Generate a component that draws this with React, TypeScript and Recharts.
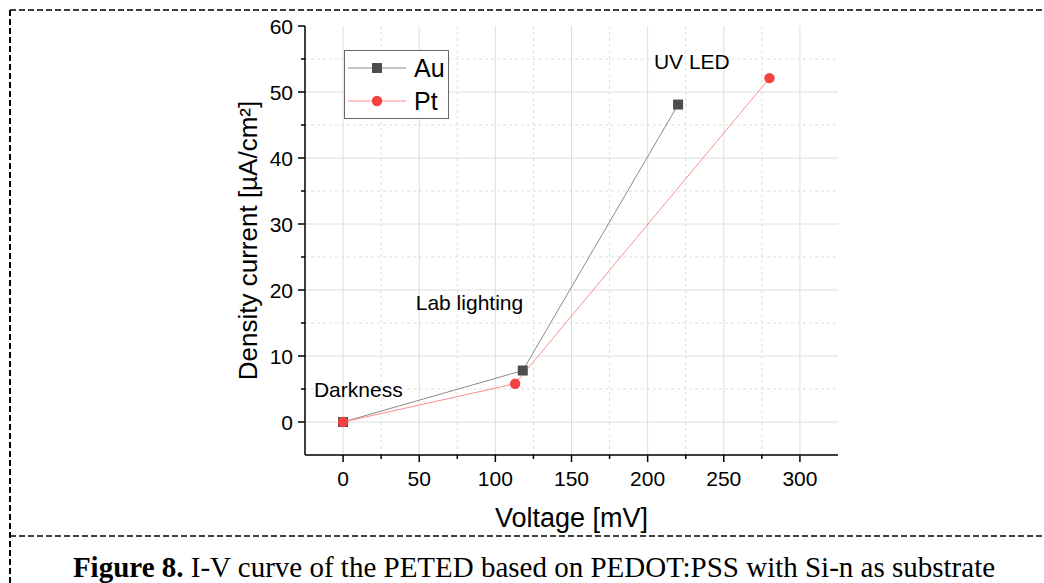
import React from "react";
import {
  LineChart,
  Line,
  XAxis,
  YAxis,
  ReferenceLine,
  ReferenceDot,
  Legend,
} from "recharts";

// measured points (voltage in mV, density current in uA/cm2)
const auVoltage = [0, 118, 220];
const auDensity = [0, 7.8, 48.1];
const ptVoltage = [0, 113, 280];
const ptDensity = [0, 5.8, 52.1];

const xTicks = [0, 25, 50, 75, 100, 125, 150, 175, 200, 225, 250, 275, 300];
const yTicks = [0, 5, 10, 15, 20, 25, 30, 35, 40, 45, 50, 55, 60];
const xMajorGrid = [0, 50, 100, 150, 200, 250, 300];
const xMinorGrid = [25, 75, 125, 175, 225, 275];
const yMajorGrid = [0, 10, 20, 30, 40, 50];
const yMinorGrid = [5, 15, 25, 35, 45, 55];

const notes = [
  { x: 229, y: 54.6, text: "UV LED" },
  { x: 83, y: 18.1, text: "Lab lighting" },
  { x: 10, y: 5, text: "Darkness" },
];

const auData = auVoltage.map((v, i) => ({ v, j: auDensity[i] }));
const ptData = ptVoltage.map((v, i) => ({ v, j: ptDensity[i] }));

const FONT = "Arial, 'Liberation Sans', sans-serif";
const AU_LINE = "#8a8a8a";
const AU_DOT = "#4d4d4d";
const PT_LINE = "#ff8c8c";
const PT_DOT = "#f44141";
const GRID = "#dedede";

const BottomTick = (p: any) => {
  const { x, y, payload } = p;
  const major = payload.value % 50 === 0;
  return (
    <g>
      <line x1={x} y1={y} x2={x} y2={y + (major ? 7 : 4)} stroke="#000" strokeWidth={1.5} />
      {major && (
        <text x={x} y={y + 31} textAnchor="middle" fontSize={21} fontFamily={FONT} fill="#000">
          {payload.value}
        </text>
      )}
    </g>
  );
};

const LeftTick = (p: any) => {
  const { x, y, payload } = p;
  const major = payload.value % 10 === 0;
  return (
    <g>
      <line x1={x} y1={y} x2={x - (major ? 7 : 4)} y2={y} stroke="#000" strokeWidth={1.5} />
      {major && (
        <text x={x - 12} y={y + 7.5} textAnchor="end" fontSize={21} fontFamily={FONT} fill="#000">
          {payload.value}
        </text>
      )}
    </g>
  );
};

const TopTick = (p: any) => {
  const { x, y, payload } = p;
  const major = payload.value % 50 === 0;
  return <line x1={x} y1={y} x2={x} y2={y + (major ? 7 : 4)} stroke="#000" strokeWidth={1.5} />;
};

const RightTick = (p: any) => {
  const { x, y, payload } = p;
  const major = payload.value % 10 === 0;
  return <line x1={x} y1={y} x2={x - (major ? 7 : 4)} y2={y} stroke="#000" strokeWidth={1.5} />;
};

const SquareDot = (p: any) => {
  const { cx, cy, index } = p;
  return <rect key={"au" + index} x={cx - 5} y={cy - 5} width={10} height={10} fill={AU_DOT} />;
};

const CircleDot = (p: any) => {
  const { cx, cy, index } = p;
  return <circle key={"pt" + index} cx={cx} cy={cy} r={5.2} fill={PT_DOT} />;
};

const LegendBox = () => (
  <svg width={106} height={70} style={{ display: "block" }}>
    <rect x={0.5} y={0.5} width={104} height={68} fill="#fff" stroke="#666" strokeWidth={1} />
    <line x1={4} y1={18} x2={62} y2={18} stroke={AU_LINE} strokeWidth={1} />
    <rect x={28} y={13} width={10} height={10} fill={AU_DOT} />
    <text x={70} y={27} fontSize={25} fontFamily={FONT} fill="#000">Au</text>
    <line x1={4} y1={51} x2={62} y2={51} stroke={PT_LINE} strokeWidth={1} />
    <circle cx={33} cy={51} r={5.2} fill={PT_DOT} />
    <text x={70} y={60} fontSize={25} fontFamily={FONT} fill="#000">Pt</text>
  </svg>
);

const NoteLabel = (text: string) => (p: any) => {
  const { viewBox } = p;
  const cx = viewBox.x + (viewBox.width || 0) / 2;
  const cy = viewBox.y + (viewBox.height || 0) / 2;
  return (
    <text x={cx} y={cy + 7.5} textAnchor="middle" fontSize={21} fontFamily={FONT} fill="#000">
      {text}
    </text>
  );
};

const Frame = () => (
  <svg
    width={1044}
    height={583}
    style={{ position: "absolute", left: 0, top: 0, pointerEvents: "none" }}
  >
    <line x1={10} y1={10} x2={1044} y2={10} stroke="#000" strokeWidth={1.5} strokeDasharray="6 3" />
    <line x1={10} y1={10} x2={10} y2={583} stroke="#000" strokeWidth={2} strokeDasharray="6 3" />
    <line x1={10} y1={536} x2={1044} y2={536} stroke="#000" strokeWidth={1.5} strokeDasharray="6 3" />
  </svg>
);

export default function App() {
  return (
    <div style={{ position: "absolute", left: 0, top: 0, width: 1044, height: 583, background: "#fff", overflow: "hidden" }}>
      <LineChart
        width={1044}
        height={583}
        margin={{ top: 26, right: 206, bottom: 88, left: 235 }}
      >
        <XAxis
          xAxisId="b"
          dataKey="v"
          type="number"
          domain={[-25, 325]}
          ticks={xTicks}
          interval={0}
          tickSize={0}
          tickMargin={0}
          tickLine={false}
          tick={<BottomTick />}
          height={40}
          axisLine={{ stroke: "#000", strokeWidth: 1.5 }}
          allowDataOverflow
          label={{
            content: (p: any) => (
              <text
                x={p.viewBox.x + p.viewBox.width / 2}
                y={p.viewBox.y + 72}
                textAnchor="middle"
                fontSize={27}
                fontFamily={FONT}
                fill="#000"
              >
                Voltage [mV]
              </text>
            ),
          }}
        />
        <XAxis
          xAxisId="t"
          orientation="top"
          dataKey="v"
          type="number"
          domain={[-25, 325]}
          ticks={xTicks}
          interval={0}
          tickSize={0}
          tickMargin={0}
          tickLine={false}
          tick={<TopTick />}
          height={0}
          axisLine={{ stroke: "#000", strokeWidth: 1.5 }}
          allowDataOverflow
        />
        <YAxis
          yAxisId="l"
          type="number"
          domain={[-5, 60]}
          ticks={yTicks}
          interval={0}
          tickSize={0}
          tickMargin={0}
          tickLine={false}
          tick={<LeftTick />}
          width={70}
          axisLine={{ stroke: "#000", strokeWidth: 1.5 }}
          allowDataOverflow
          label={{
            content: (p: any) => {
              const x = p.viewBox.x + 22;
              const y = p.viewBox.y + p.viewBox.height / 2;
              return (
                <text
                  x={x}
                  y={y}
                  transform={`rotate(-90 ${x} ${y})`}
                  textAnchor="middle"
                  fontSize={26}
                  fontFamily={FONT}
                  fill="#000"
                >
                  Density current [µA/cm²]
                </text>
              );
            },
          }}
        />
        <YAxis
          yAxisId="r"
          orientation="right"
          type="number"
          domain={[-5, 60]}
          ticks={yTicks}
          interval={0}
          tickSize={0}
          tickMargin={0}
          tickLine={false}
          tick={<RightTick />}
          width={0}
          axisLine={{ stroke: "#000", strokeWidth: 1.5 }}
          allowDataOverflow
        />
        {xMinorGrid.map((v) => (
          <ReferenceLine key={"xm" + v} xAxisId="b" yAxisId="l" x={v} stroke={GRID} strokeDasharray="3 3" />
        ))}
        {yMinorGrid.map((v) => (
          <ReferenceLine key={"ym" + v} xAxisId="b" yAxisId="l" y={v} stroke={GRID} strokeDasharray="3 3" />
        ))}
        {xMajorGrid.map((v) => (
          <ReferenceLine key={"xM" + v} xAxisId="b" yAxisId="l" x={v} stroke={GRID} />
        ))}
        {yMajorGrid.map((v) => (
          <ReferenceLine key={"yM" + v} xAxisId="b" yAxisId="l" y={v} stroke={GRID} />
        ))}
        {notes.map((n) => (
          <ReferenceDot
            key={n.text}
            xAxisId="b"
            yAxisId="l"
            x={n.x}
            y={n.y}
            r={0}
            fill="none"
            stroke="none"
            label={{ content: NoteLabel(n.text) }}
          />
        ))}
        <Line
          xAxisId="b"
          yAxisId="l"
          data={auData}
          dataKey="j"
          name="Au"
          type="linear"
          stroke={AU_LINE}
          strokeWidth={1}
          dot={SquareDot}
          activeDot={false}
          isAnimationActive={false}
        />
        <Line
          xAxisId="b"
          yAxisId="l"
          data={ptData}
          dataKey="j"
          name="Pt"
          type="linear"
          stroke={PT_LINE}
          strokeWidth={1}
          dot={CircleDot}
          activeDot={false}
          isAnimationActive={false}
        />
        <Legend
          layout="horizontal"
          verticalAlign="middle"
          align="center"
          content={<LegendBox />}
          wrapperStyle={{ position: "absolute", left: 344, top: 50, width: 106, height: 70 }}
        />
      </LineChart>
      <Frame />
      <div
        style={{
          position: "absolute",
          left: 0,
          top: 553,
          width: 1068,
          textAlign: "center",
          fontFamily: "'Liberation Serif', 'Times New Roman', serif",
          fontSize: 29,
          lineHeight: "29px",
          color: "#000",
          whiteSpace: "nowrap",
        }}
      >
        <b>Figure 8.</b> I-V curve of the PETED based on PEDOT:PSS with Si-n as substrate
      </div>
    </div>
  );
}
